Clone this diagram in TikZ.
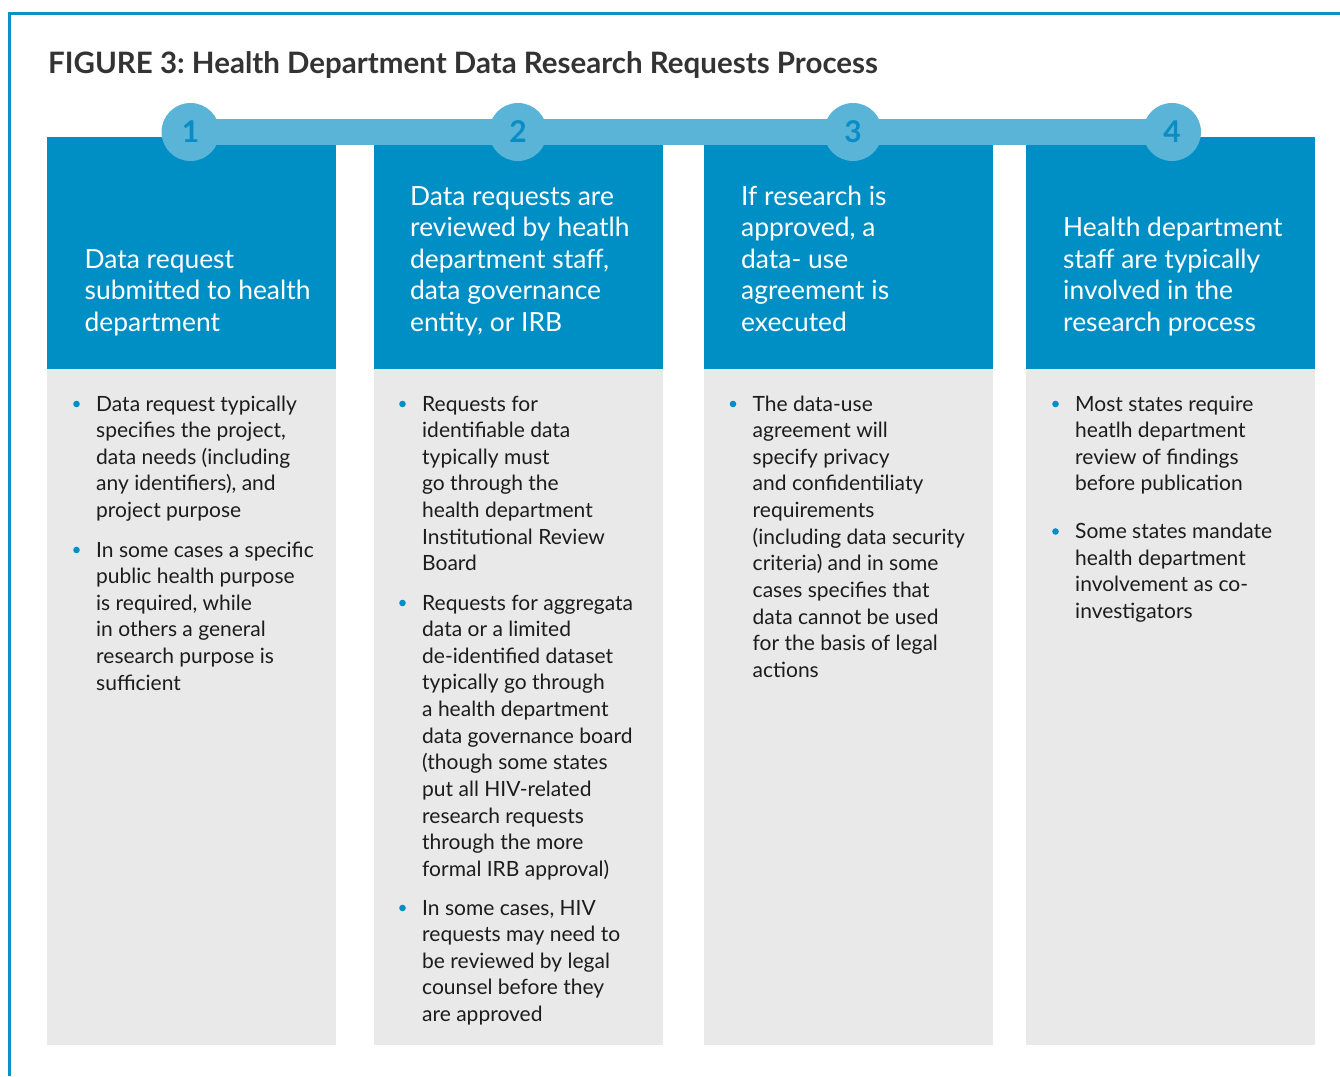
\documentclass[tikz,border=0pt]{standalone}
\usepackage{fontspec}
\setmainfont{Lato}
\frenchspacing
\definecolor{frameblue}{HTML}{0A91C8}
\definecolor{headblue}{HTML}{008FC4}
\definecolor{barblue}{HTML}{5AB4D8}
\definecolor{numblue}{HTML}{0A8DC4}
\definecolor{panelgrey}{HTML}{E9E9E9}
\definecolor{titlegrey}{HTML}{333333}
\definecolor{bodyink}{HTML}{1C1C1C}
% stacked lines, baseline at the first row
\newcommand{\toprows}[1]{\begin{tabular}[t]{@{}l@{}}#1\end{tabular}}
% stacked lines, baseline at the last row
\newcommand{\bottomrows}[1]{\begin{tabular}[b]{@{}l@{}}#1\end{tabular}}
\tikzset{
  headbox/.style={fill=headblue, draw=none, inner sep=0, anchor=north west,
    minimum width=289pt, minimum height=232pt},
  panelbox/.style={fill=panelgrey, draw=none, inner sep=0, anchor=north west,
    minimum width=289pt, minimum height=676pt},
  stepdisc/.style={circle, fill=barblue, draw=none, minimum size=58pt, inner sep=0,
    text=numblue, font=\fontsize{30}{30}\selectfont\bfseries},
  headtext/.style={inner sep=0, anchor=base west, text=white,
    font=\fontsize{26.4}{31.6}\selectfont},
  itemtext/.style={inner sep=0, anchor=base west, text=bodyink,
    font=\fontsize{21}{26.65}\selectfont},
  bulletdot/.style={fill=headblue},
}
\begin{document}
\begin{tikzpicture}[x=1pt, y=-1pt]
\useasboundingbox (0,0) rectangle (1340,1076);
\fill[white] (0,0) rectangle (1340,1076);

% open frame: top and left rules
\draw[frameblue, line width=2.6pt] (9.7,1076) -- (9.7,13.6) -- (1340,13.6);

% title
\node[inner sep=0, anchor=base west, text=titlegrey,
  font=\fontsize{29.5}{29.5}\selectfont\bfseries] (title) at (48,73.5)
  {FIGURE 3: Health Department Data Research Requests Process};

% column headers and panels
\foreach \i/\x in {1/47, 2/374, 3/704, 4/1026} {
  \node[headbox] (h\i) at (\x,137) {};
  \node[panelbox] (p\i) at (\x,369) {};
}

% step bar and numbered discs
\coordinate (s1) at (190.5,132);
\coordinate (s2) at (518,132);
\coordinate (s3) at (853,132);
\coordinate (s4) at (1172,132);
\draw[barblue, line width=26pt] (s1) -- (s4);
\foreach \i in {1,...,4} {
  \node[stepdisc] (n\i) at (s\i) {\i};
}

% header texts
\node[headtext] (t1) at (84.5,331.5) {\bottomrows{Data request\\submitted to health\\department}};
\node[headtext] (t2) at (410,331.5) {\bottomrows{Data requests are\\reviewed by heatlh\\department staff,\\data governance\\entity, or IRB}};
\node[headtext] (t3) at (741,331.5) {\bottomrows{If research is\\approved, a\\data- use\\agreement is\\executed}};
\node[headtext] (t4) at (1063,331.5) {\bottomrows{Health department\\staff are typically\\involved in the\\research process}};

% bullet items
\node[itemtext] (b11) at (96,411) {\toprows{Data request typically\\specifies the project,\\data needs (including\\any identifiers), and\\project purpose}};
\node[itemtext] (b12) at (96,557) {\toprows{In some cases a specific\\public health purpose\\is required, while\\in others a general\\research purpose is\\sufficient}};

\node[itemtext] (b21) at (422,411) {\toprows{Requests for\\identifiable data\\typically must\\go through the\\health department\\Institutional Review\\Board}};
\node[itemtext] (b22) at (422,610) {\toprows{Requests for aggregata\\data or a limited\\de-identified dataset\\typically go through\\a health department\\data governance board\\(though some states\\put all HIV-related\\research requests\\through the more\\formal IRB approval)}};
\node[itemtext] (b23) at (422,915) {\toprows{In some cases, HIV\\requests may need to\\be reviewed by legal\\counsel before they\\are approved}};

\node[itemtext] (b31) at (752.5,411) {\toprows{The data-use\\agreement will\\specify privacy\\and confidentiliaty\\requirements\\(including data security\\criteria) and in some\\cases specifies that\\data cannot be used\\for the basis of legal\\actions}};

\node[itemtext] (b41) at (1075,411) {\toprows{Most states require\\heatlh department\\review of findings\\before publication}};
\node[itemtext] (b42) at (1075,538.5) {\toprows{Some states mandate\\health department\\involvement as co-\\investigators}};

\foreach \b in {b11,b12,b21,b22,b23,b31,b41,b42} {
  \fill[bulletdot] ([xshift=-19.5pt,yshift=7pt]\b.base west) circle (3.3pt);
}
\end{tikzpicture}
\end{document}
